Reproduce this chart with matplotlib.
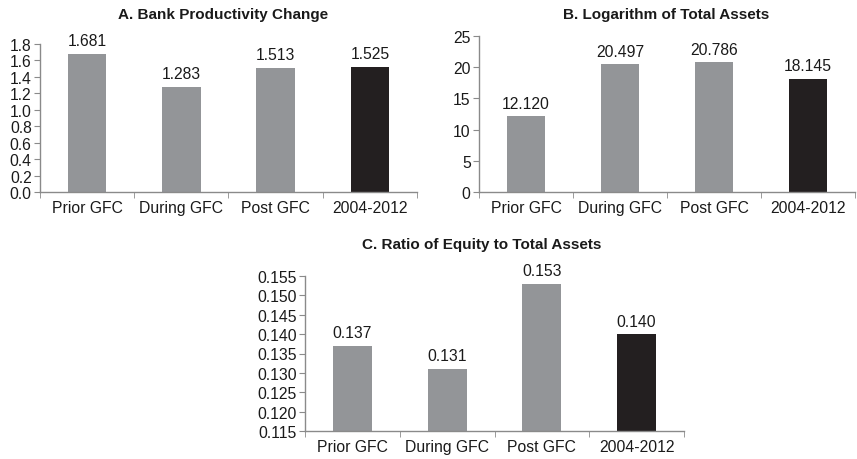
import numpy as np
import matplotlib
matplotlib.use("Agg")
import matplotlib.pyplot as plt
from matplotlib.ticker import FixedLocator

plt.rcParams['font.family'] = ['Liberation Sans', 'DejaVu Sans']

categories = ["Prior GFC", "During GFC", "Post GFC", "2004-2012"]
productivity = [1.681, 1.283, 1.513, 1.525]
log_assets = [12.120, 20.497, 20.786, 18.145]
equity_ratio = [0.137, 0.131, 0.153, 0.140]

gray = "#939598"
black = "#231f20"
spine_col = "#8a8a8a"
colors = [gray, gray, gray, black]

fig = plt.figure(figsize=(8.57, 4.6), dpi=100)


def panel(rect, values, ylim, yticks, fmt, ytick_fmt):
    ax = fig.add_axes(rect)
    x = np.arange(len(categories))
    ax.bar(x, values, width=0.41, color=colors, zorder=2)
    ax.set_xlim(-0.5, len(categories) - 0.5)
    ax.set_ylim(*ylim)
    ax.set_yticks(yticks)
    ax.set_yticklabels([ytick_fmt.format(t) for t in yticks])
    ax.set_xticks(x)
    ax.set_xticklabels(categories)
    ax.xaxis.set_minor_locator(FixedLocator(np.arange(-0.5, len(categories), 1.0)))
    ax.tick_params(axis='x', which='major', length=0, labelsize=11.3, pad=6, colors='#1a1a1a')
    ax.tick_params(axis='x', which='minor', length=4, color=spine_col, direction='out')
    ax.tick_params(axis='y', length=4, color=spine_col, labelsize=11.3, pad=2, colors='#1a1a1a')
    ax.tick_params(axis='y', color=spine_col)
    for s in ['top', 'right']:
        ax.spines[s].set_visible(False)
    for s in ['left', 'bottom']:
        ax.spines[s].set_color(spine_col)
        ax.spines[s].set_linewidth(1.0)
    for xi, v in zip(x, values):
        ax.annotate(fmt.format(v), (xi, v), xytext=(0, 4), textcoords='offset points',
                    ha='center', va='bottom', fontsize=11.3, color='#1a1a1a')
    return ax


panel([40 / 857, 1 - 193 / 460, 377 / 857, 148 / 460], productivity,
      (0, 1.8), np.arange(0, 1.81, 0.2), "{:.3f}", "{:.1f}")
panel([479 / 857, 1 - 193 / 460, 376 / 857, 156 / 460], log_assets,
      (0, 25), np.arange(0, 26, 5), "{:.3f}", "{:.0f}")
panel([305 / 857, 1 - 432 / 460, 379 / 857, 155 / 460], equity_ratio,
      (0.115, 0.155), np.linspace(0.115, 0.155, 9), "{:.3f}", "{:.3f}")

fig.text(223 / 857, 1 - 15 / 460, "A. Bank Productivity Change", ha='center', va='center',
         fontsize=11, fontweight='bold', color='#1a1a1a')
fig.text(666 / 857, 1 - 15 / 460, "B. Logarithm of Total Assets", ha='center', va='center',
         fontsize=11, fontweight='bold', color='#1a1a1a')
fig.text(482 / 857, 1 - 245 / 460, "C. Ratio of Equity to Total Assets", ha='center', va='center',
         fontsize=11, fontweight='bold', color='#1a1a1a')

fig.savefig("out.png", dpi=100, facecolor='white')
